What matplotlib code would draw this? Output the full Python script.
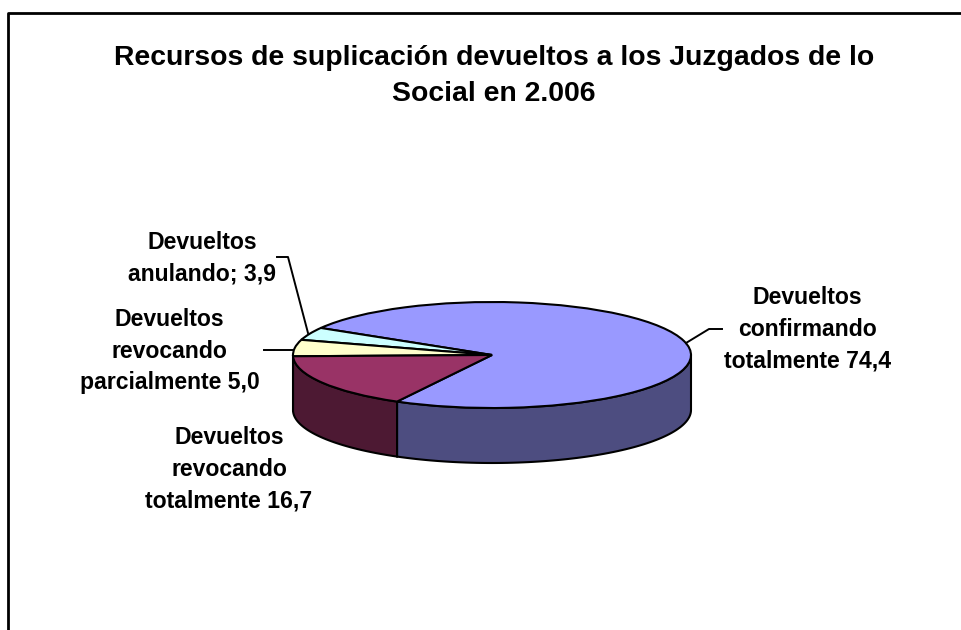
"""Recursos de suplicacion: pseudo 3D pie."""

import matplotlib

matplotlib.use('Agg')
import matplotlib.pyplot as plt
import numpy as np

plt.rcParams['font.family'] = ['Liberation Sans', 'DejaVu Sans']

TITLE = 'Recursos de suplicación devueltos a los Juzgados de lo\nSocial en 2.006'
LABELS = [
    'Devueltos\nconfirmando\ntotalmente 74,4',
    'Devueltos\nanulando; 3,9',
    'Devueltos\nrevocando\nparcialmente 5,0',
    'Devueltos\nrevocando\ntotalmente 16,7',
]
VALUES = [74.4, 3.9, 5.0, 16.7]
TOP_COLORS = ['#9999FF', '#CCFFFF', '#FFFFCC', '#993366']
SIDE_COLORS = ['#4D4D80', '#668080', '#808066', '#4D1933']

W, H = 961, 630
CX, CY = 492, 355
RX, RY = 199, 53
DEPTH = 55 / RY


def px(x, y):
    """Pixel position to pie units."""
    return (x - CX) / RX, (CY - y) / RY


def draw_side(ax, wedge, color):
    # pie() keeps adding up past 360, bring the slice back to one turn
    shift = 360 if wedge.theta1 >= 360 else 0
    lo, hi = max(wedge.theta1 - shift, 180), min(wedge.theta2 - shift, 360)
    if hi <= lo:
        return
    t = np.radians(np.linspace(lo, hi, 80))
    xs = np.r_[np.cos(t), np.cos(t)[::-1]]
    ys = np.r_[np.sin(t), np.sin(t)[::-1] - DEPTH]
    ax.fill(xs, ys, facecolor=color, edgecolor='black', linewidth=1.5, zorder=1)


fig = plt.figure(figsize=(W / 100, H / 100), dpi=100)
ax = fig.add_axes([0, 0, 1, 1])
wedges, _ = ax.pie(
    VALUES,
    colors=TOP_COLORS,
    startangle=241.5,
    wedgeprops={'edgecolor': 'black', 'linewidth': 1.5, 'zorder': 2},
)
ax.set_aspect('auto')
ax.set_xlim(px(0, 0)[0], px(W, 0)[0])
ax.set_ylim(px(0, H)[1], px(0, 0)[1])
ax.axis('on')
ax.set_xticks([])
ax.set_yticks([])
for spine in ax.spines.values():
    spine.set_visible(False)

for wedge, color in zip(wedges, SIDE_COLORS):
    draw_side(ax, wedge, color)

# chart frame, only left and top stay inside the picture
frame_x = [7.5, 7.5, 961]
frame_y = [630, 12.5, 12.5]
ax.plot(*px(np.array(frame_x), np.array(frame_y)), color='black', linewidth=2, clip_on=False)

ax.text(*px(494, 76), TITLE, ha='center', va='center', fontsize=20.4, fontweight='bold', linespacing=1.5)

label_pos = [(807.5, 329), (202, 258), (169.5, 351), (229, 469)]
for text, pos in zip(LABELS, label_pos):
    ax.text(*px(*pos), text, ha='center', va='center', fontsize=16.6, fontweight='bold', linespacing=1.48)

leader_lines = [
    ([686, 709, 722], [343, 329, 329]),
    ([308, 288, 277], [333, 257, 257]),
    ([264, 293], [350, 350]),
]
for xs, ys in leader_lines:
    ax.plot(*px(np.array(xs), np.array(ys)), color='black', linewidth=1.4, zorder=3)

fig.savefig('out.png', dpi=100)
